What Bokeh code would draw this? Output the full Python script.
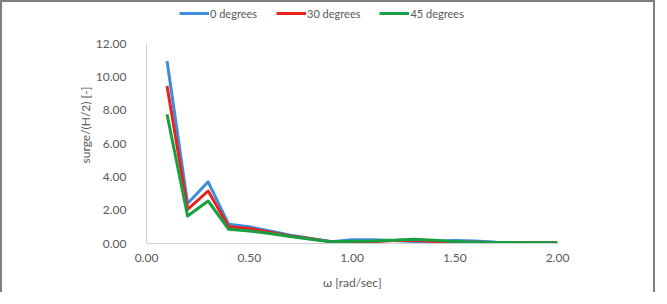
from bokeh.plotting import figure
from bokeh.models import Range1d, NumeralTickFormatter, FixedTicker, Legend, LegendItem
from bokeh.embed import file_html
from bokeh.resources import INLINE

# data
omega = [0.1, 0.2, 0.3, 0.4, 0.5, 0.6, 0.7, 0.8, 0.9, 1.0,
         1.1, 1.2, 1.3, 1.4, 1.5, 1.6, 1.7, 1.8, 1.9, 2.0]
deg0 = [10.95, 2.40, 3.70, 1.15, 1.00, 0.75, 0.50, 0.30, 0.10, 0.22,
        0.22, 0.18, 0.12, 0.12, 0.18, 0.15, 0.08, 0.05, 0.05, 0.05]
deg30 = [9.45, 2.05, 3.15, 1.00, 0.90, 0.68, 0.45, 0.28, 0.10, 0.08,
         0.10, 0.18, 0.20, 0.12, 0.08, 0.08, 0.06, 0.05, 0.05, 0.05]
deg45 = [7.75, 1.65, 2.55, 0.85, 0.75, 0.60, 0.42, 0.26, 0.10, 0.14,
         0.15, 0.20, 0.25, 0.20, 0.12, 0.08, 0.06, 0.05, 0.05, 0.05]
series_names = ["0 degrees", "30 degrees", "45 degrees"]
series_colors = ["#3d8ddd", "#e8231f", "#17a043"]
x_ticks = [0.0, 0.5, 1.0, 1.5, 2.0]
y_ticks = [0, 2, 4, 6, 8, 10, 12]

FONT = "Lato"
GRAY = "#595959"

p = figure(width=651, height=288, output_backend="svg", toolbar_location=None,
           x_range=Range1d(0, 2.0), y_range=Range1d(0, 14.22),
           min_border_left=144, min_border_right=96, min_border_top=4, min_border_bottom=47)
p.frame_width = 411
p.frame_height = 237
p.outline_line_color = None
p.xgrid.visible = False
p.ygrid.visible = False
p.styles = {"border-top": "2px solid #7f7f7f", "border-left": "2px solid #7f7f7f",
            "border-right": "2px solid #7f7f7f"}

for ax in (p.xaxis[0], p.yaxis[0]):
    ax.formatter = NumeralTickFormatter(format="0.00")
    ax.axis_line_color = "#d0d0d0"
    ax.major_tick_line_color = None
    ax.minor_tick_line_color = None
    ax.major_label_text_font = FONT
    ax.major_label_text_font_size = "12px"
    ax.major_label_text_color = GRAY
    ax.axis_label_text_font = FONT
    ax.axis_label_text_font_size = "12px"
    ax.axis_label_text_font_style = "normal"
    ax.axis_label_text_color = GRAY

p.xaxis[0].ticker = FixedTicker(ticks=x_ticks)
p.yaxis[0].ticker = FixedTicker(ticks=y_ticks)
p.yaxis[0].bounds = (0, 12)
p.xaxis[0].axis_label = "ω [rad/sec]"
p.yaxis[0].axis_label = "surge/(H/2) [-]"
p.xaxis[0].major_label_standoff = 4
p.xaxis[0].axis_label_standoff = 10
p.yaxis[0].major_label_standoff = 14
p.yaxis[0].axis_label_standoff = 0

items = []
for name, ys, c in zip(series_names, [deg0, deg30, deg45], series_colors):
    r = p.line(omega, ys, line_color=c, line_width=3, line_join="round")
    items.append(LegendItem(label=name, renderers=[r]))

legend = Legend(items=items, orientation="horizontal", location=(33, 223))
legend.background_fill_alpha = 0
legend.border_line_color = None
legend.padding = 0
legend.margin = 0
legend.spacing = 19
legend.glyph_width = 30
legend.glyph_height = 14
legend.label_standoff = 1
legend.label_text_font = FONT
legend.label_text_font_size = "11px"
legend.label_text_color = GRAY
p.add_layout(legend)

open("out.html", "w").write(file_html(p, INLINE))
